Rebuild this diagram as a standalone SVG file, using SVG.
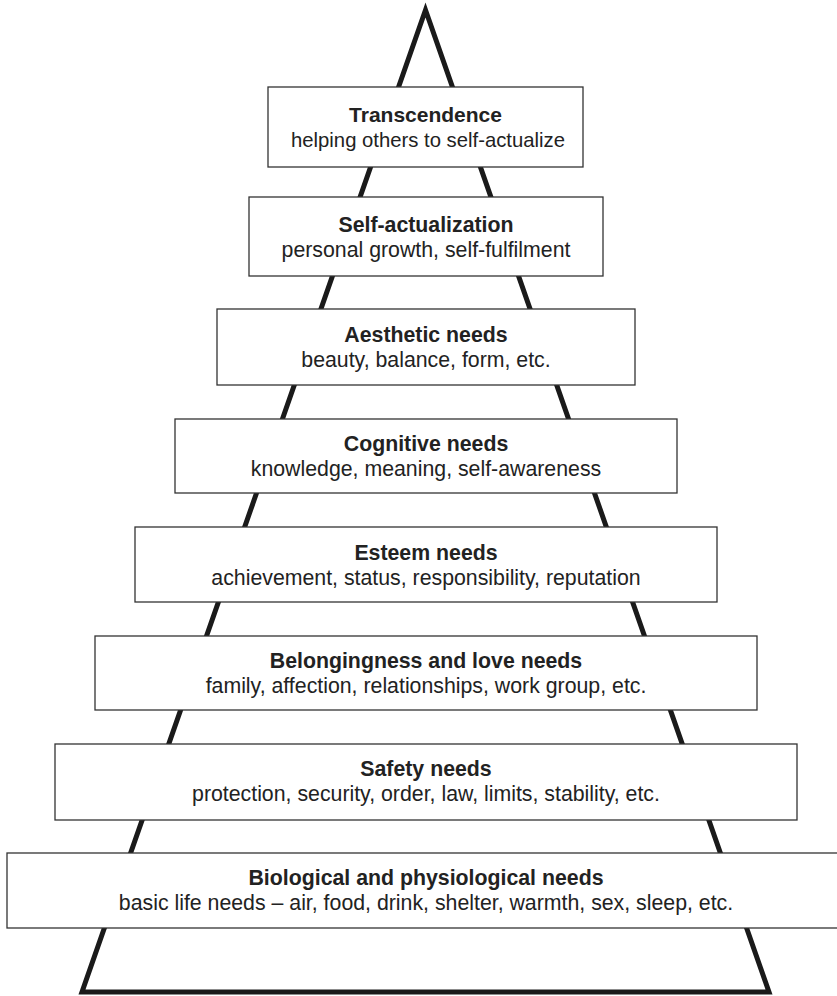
<svg xmlns="http://www.w3.org/2000/svg" width="837" height="996" viewBox="0 0 837 996">
<style>
.box{fill:#fff;stroke:#333;stroke-width:1.3}
.t{font-family:"Liberation Sans",Arial,sans-serif;font-size:21.3px;fill:#222;text-anchor:middle}
.b{font-weight:bold}
.sm{font-size:20.3px}
.pyr{fill:none;stroke:#1a1a1a;stroke-width:5;stroke-linejoin:miter;stroke-miterlimit:10}
</style>
<rect width="837" height="996" fill="#fff"/>
<g id="connectors">
<polygon class="pyr" points="425.5,10 769,992 82,992"/>
</g>
<g id="transcendence">
<rect class="box" x="268" y="87" width="315" height="80"/>
<text class="t b" x="425.5" y="122" style="font-size:21px">Transcendence</text>
<text class="t sm" x="428" y="147">helping others to self-actualize</text>
</g>
<g id="self-actualization">
<rect class="box" x="249" y="197" width="354" height="79"/>
<text class="t b" x="426" y="232">Self-actualization</text>
<text class="t" x="426" y="257">personal growth, self-fulfilment</text>
</g>
<g id="aesthetic">
<rect class="box" x="217" y="309" width="418" height="76"/>
<text class="t b" x="426" y="342">Aesthetic needs</text>
<text class="t" x="426" y="367">beauty, balance, form, etc.</text>
</g>
<g id="cognitive">
<rect class="box" x="175" y="419" width="502" height="74"/>
<text class="t b" x="426" y="451">Cognitive needs</text>
<text class="t" x="426" y="476">knowledge, meaning, self-awareness</text>
</g>
<g id="esteem">
<rect class="box" x="135" y="527" width="582" height="75"/>
<text class="t b" x="426" y="560">Esteem needs</text>
<text class="t" x="426" y="585">achievement, status, responsibility, reputation</text>
</g>
<g id="belonging">
<rect class="box" x="95" y="636" width="662" height="74"/>
<text class="t b" x="426" y="668">Belongingness and love needs</text>
<text class="t" x="426" y="693">family, affection, relationships, work group, etc.</text>
</g>
<g id="safety">
<rect class="box" x="55" y="744" width="742" height="76"/>
<text class="t b" x="426" y="776">Safety needs</text>
<text class="t" x="426" y="801">protection, security, order, law, limits, stability, etc.</text>
</g>
<g id="biological">
<rect class="box" x="7" y="853" width="838" height="75"/>
<text class="t b" x="426" y="885">Biological and physiological needs</text>
<text class="t" x="426" y="910">basic life needs – air, food, drink, shelter, warmth, sex, sleep, etc.</text>
</g>
</svg>
